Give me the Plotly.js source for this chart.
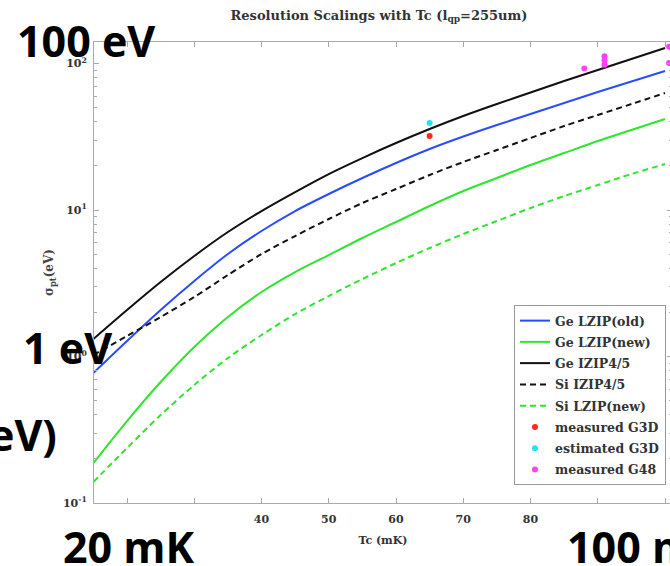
<!DOCTYPE html>
<html>
<head>
<meta charset="utf-8">
<script src="https://cdn.plot.ly/plotly-3.0.1.min.js"></script>
<style>
html,body{margin:0;padding:0;background:#fff;overflow:hidden;}
#chart{width:672px;height:566px;}
</style>
</head>
<body>
<div id="chart"></div>
<script>
// ---- data (Tc in mK, resolution in eV) ----
const tc = [15, 20, 25, 30, 35, 40, 45, 50, 55, 60, 65, 70, 75, 80, 85, 90, 95, 100];
const geLzipOld = [0.772, 1.276, 2.077, 3.277, 5.008, 7.19, 9.845, 12.86, 16.54, 20.94, 26.09, 31.74, 38.04, 45.21, 53.76, 63.9, 75.35, 88.87];
const geLzipNew = [0.1875, 0.3628, 0.6697, 1.161, 1.86, 2.756, 3.774, 4.929, 6.44, 8.282, 10.65, 13.48, 16.54, 20.29, 24.49, 29.58, 35.17, 41.8];
const geIzip45 = [1.317, 2.077, 3.225, 4.853, 7.076, 9.845, 13.27, 17.61, 22.64, 28.66, 35.72, 43.82, 52.91, 63.39, 75.94, 90.28, 107.3, 127.6];
const siIzip45 = [1.024, 1.38, 1.86, 2.547, 3.6, 5.008, 6.645, 8.683, 11.16, 13.91, 17.34, 21.27, 25.68, 31.0, 37.45, 44.51, 52.91, 62.89];
const siLzipNew = [0.1391, 0.2373, 0.3988, 0.6391, 0.9768, 1.402, 1.95, 2.588, 3.381, 4.346, 5.503, 6.859, 8.412, 10.32, 12.46, 14.81, 17.61, 20.61];

const measG3D_tc = [65];
const measG3D_val = [32.0];
const estG3D_tc = [65];
const estG3D_val = [39.3];
const measG48_tc = [88, 91, 91, 91, 100.6, 100.6];
const measG48_val = [92.5, 112, 105, 98, 130, 101];

const xTickVals = [20, 30, 40, 50, 60, 70, 80, 90, 100];
const xTickText = ['', '', '40', '50', '60', '70', '80', '', ''];
const yTickVals = [0.1, 1, 10, 100];
const yTickText = ['10<sup>-1</sup>', '10<sup>0</sup>', '10<sup>1</sup>', '10<sup>2</sup>'];
const yMinorVals = [];
[0.1, 1, 10, 100].forEach(d => { for (let k = 2; k <= 9; k++) yMinorVals.push(d * k); });

const serif = 'DejaVu Serif, Liberation Serif, serif';
const bigFont = {family: 'Open Sans, sans-serif', size: 43, color: '#000', weight: 'bold'};

function line(name, y, color, dash) {
  return {x: tc, y: y, name: name, legendgroup: name, type: 'scatter', mode: 'lines',
    line: {color: color, width: 2, dash: dash || 'solid', shape: 'spline', smoothing: 0.8}};
}
function pts(name, x, y, color) {
  return {x: x, y: y, name: name, legendgroup: name, type: 'scatter', mode: 'markers',
    marker: {color: color, size: 6}, cliponaxis: true};
}

const traces = [
  line('Ge LZIP(old)', geLzipOld, '#2a4cff'),
  line('Ge LZIP(new)', geLzipNew, '#2ee62e'),
  line('Ge IZIP4/5', geIzip45, '#111111'),
  line('Si IZIP4/5', siIzip45, '#111111', '6px,4px'),
  line('Si LZIP(new)', siLzipNew, '#2ee62e', '6px,4px'),
  pts('measured G3D', measG3D_tc, measG3D_val, '#ff2a1a'),
  pts('estimated G3D', estG3D_tc, estG3D_val, '#22e3f3'),
  pts('measured G48', measG48_tc, measG48_val, '#ff40ff')
];

const L = 94, T = 42, W = 672, H = 566, B = 63;
const pw = W - L, ph = H - T - B;
function px2x(px) { return (px - L) / pw; }
function py2y(py) { return (H - B - py) / ph; }

const layout = {
  width: W, height: H,
  margin: {l: L, r: 0, t: T, b: B, pad: 0},
  paper_bgcolor: '#fff', plot_bgcolor: '#fff',
  showlegend: true,
  title: {text: 'Resolution Scalings with Tc (l<sub>qp</sub>=255um)',
    font: {family: serif, size: 13, color: '#333', weight: 'bold'},
    x: px2x(379), xref: 'paper', xanchor: 'center', y: 1 - 15 / H, yref: 'container', yanchor: 'middle'},
  xaxis: {
    type: 'linear', range: [15.09, 15.09 + pw / 6.725],
    tickmode: 'array', tickvals: xTickVals, ticktext: xTickText,
    ticks: 'inside', ticklen: 5, tickcolor: '#aaa', tickwidth: 1,
    showline: true, linecolor: '#aaa', linewidth: 1, mirror: 'ticks',
    showgrid: false, zeroline: false,
    tickfont: {family: serif, size: 11, color: '#333', weight: 'bold'},
    ticklabelstandoff: 6,
    title: {text: 'Tc (mK)', font: {family: serif, size: 11, color: '#333', weight: 'bold'}, standoff: 11}
  },
  yaxis: {
    type: 'log', range: [-1, 2.147],
    tickmode: 'array', tickvals: yTickVals, ticktext: yTickText,
    ticks: 'inside', ticklen: 5, tickcolor: '#aaa', tickwidth: 1,
    minor: {tickmode: 'array', tickvals: yMinorVals, ticks: 'inside', ticklen: 3, tickcolor: '#aaa', showgrid: false},
    showline: true, linecolor: '#aaa', linewidth: 1, mirror: 'ticks',
    showgrid: false, zeroline: false,
    tickfont: {family: serif, size: 11, color: '#333', weight: 'bold'},
    ticklabelstandoff: 4,
    title: {text: 'σ<sub>pt</sub>(eV)', font: {family: serif, size: 12, color: '#444', weight: 'bold'}, standoff: 6}
  },
  legend: {
    x: px2x(514), xanchor: 'left', y: py2y(305), yanchor: 'top',
    bgcolor: '#fff', bordercolor: '#999', borderwidth: 1,
    font: {family: serif, size: 12.5, color: '#333', weight: 'bold'},
    itemwidth: 30, tracegroupgap: 2
  },
  annotations: [
    {text: '100 eV', xref: 'paper', yref: 'paper', x: px2x(15), y: py2y(40), xanchor: 'left', yanchor: 'middle', showarrow: false, font: bigFont},
    {text: '1 eV', xref: 'paper', yref: 'paper', x: px2x(21), y: py2y(347), xanchor: 'left', yanchor: 'middle', showarrow: false, font: bigFont},
    {text: 'eV)', xref: 'paper', yref: 'paper', x: px2x(59), y: py2y(434), xanchor: 'right', yanchor: 'middle', showarrow: false, font: bigFont},
    {text: '20 mK', xref: 'paper', yref: 'paper', x: px2x(61), y: py2y(546), xanchor: 'left', yanchor: 'middle', showarrow: false, font: bigFont},
    {text: '100 mK', xref: 'paper', yref: 'paper', x: px2x(565), y: py2y(546), xanchor: 'left', yanchor: 'middle', showarrow: false, font: bigFont}
  ]
};

Plotly.newPlot('chart', traces, layout, {staticPlot: true, displayModeBar: false});
</script>
</body>
</html>
